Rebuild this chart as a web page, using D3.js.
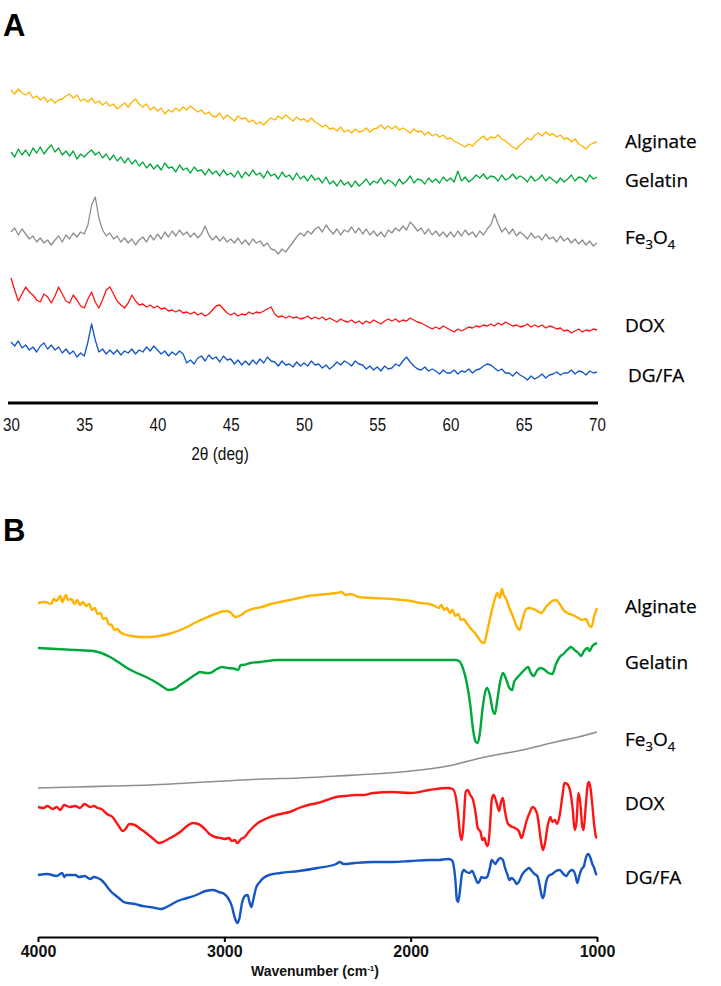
<!DOCTYPE html>
<html><head><meta charset="utf-8">
<script src="https://cdn.jsdelivr.net/npm/d3@7"></script>
<style>
body{margin:0;background:#fff;}
svg{display:block;}
</style></head>
<body>
<svg id="chart" width="721" height="986"></svg>
<script>
// ---------- Panel A: XRD (2θ from 30 to 70 deg, step 0.25) ----------
const xrdStart = 30, xrdStep = 0.25;
const xrdTicks = [30,35,40,45,50,55,60,65,70];
const xrdAlginate = [310,306,311,307,305,308,302,304,300,303,298,301,297,300,301,304,306,302,305,299,301,298,302,297,299,295,298,294,296,291,294,297,293,298,301,296,293,296,290,293,289,292,286,290,288,292,289,293,290,294,291,288,290,286,288,284,283,287,281,285,282,279,284,281,282,278,280,276,278,275,279,282,280,284,281,285,282,279,283,280,281,278,282,278,276,273,275,271,272,269,273,268,270,267,271,268,269,272,268,271,272,275,271,274,271,274,270,272,270,267,271,268,269,265,268,264,266,263,265,261,262,259,257,255,253,256,254,258,261,264,260,263,262,265,261,259,256,253,251,255,258,262,260,265,267,264,268,265,266,263,265,261,262,258,261,256,254,251,255,257,258];
const xrdGelatin = [248,243,251,245,250,244,252,247,253,246,251,255,248,252,245,249,244,249,241,246,243,247,250,245,248,242,246,240,245,239,243,237,242,236,240,234,238,232,236,231,235,230,237,232,233,228,235,230,232,227,233,229,230,225,231,226,229,224,230,225,227,223,229,222,228,224,230,225,227,222,229,224,226,221,228,223,225,220,227,221,224,219,225,220,222,217,223,216,219,214,220,215,218,213,219,214,217,221,215,219,217,222,216,220,218,214,221,216,219,224,217,221,220,216,222,218,221,217,223,219,222,218,229,219,223,218,221,225,222,226,221,224,223,219,225,220,222,226,221,224,222,218,224,219,221,225,219,223,220,217,222,218,221,225,219,223,222,218,225,221,223];
const xrdFe3O4 = [168,172,165,171,166,161,164,158,162,157,160,155,160,164,158,165,161,167,163,168,166,175,195,203,182,170,164,167,161,164,158,162,157,161,155,160,163,158,165,160,166,161,168,163,169,164,170,165,168,163,167,162,166,174,165,160,164,159,163,158,161,157,162,156,160,155,161,157,159,154,157,151,150,146,151,148,153,158,163,167,164,169,166,171,173,168,175,170,166,171,165,170,168,173,167,172,166,171,165,169,164,168,163,170,167,172,169,174,170,178,174,169,172,166,171,165,169,164,168,163,168,163,169,164,170,165,168,163,169,165,171,175,186,176,168,172,166,171,164,168,165,161,167,162,164,160,166,161,163,158,164,159,162,157,161,156,160,155,159,154,157];
const xrdDOX = [122,110,99,106,113,108,105,100,98,106,103,97,104,113,106,99,97,105,100,94,92,101,108,98,92,100,110,113,106,99,95,92,97,105,99,95,96,93,95,92,94,91,92,89,90,88,90,87,88,86,88,85,87,84,86,90,94,95,91,87,85,87,84,86,85,88,86,88,87,89,91,93,86,83,84,82,84,82,83,81,82,84,81,83,81,83,80,82,80,78,81,79,78,80,77,79,76,79,77,80,78,76,79,81,79,81,78,80,79,82,80,78,77,75,73,71,73,71,74,72,70,68,71,69,71,73,72,74,73,75,74,76,74,77,75,78,76,74,75,73,74,76,73,75,73,75,72,74,73,71,72,69,70,67,69,71,68,70,69,71,70];
const xrdDGFA = [58,54,59,52,55,50,53,48,54,57,51,55,50,53,47,51,46,49,43,47,44,58,76,60,48,51,46,50,46,50,45,49,47,51,46,50,48,53,49,54,50,46,49,44,48,45,49,46,37,40,36,42,44,39,45,41,43,38,44,40,41,36,40,35,39,35,40,36,41,37,43,39,38,34,39,35,36,33,38,34,37,34,39,35,36,32,35,31,34,38,35,39,37,34,39,36,35,31,34,30,33,29,34,31,32,36,34,39,43,38,34,31,30,33,29,31,29,26,30,27,27,30,26,29,28,31,27,30,31,34,36,35,32,29,31,27,27,24,28,25,23,20,24,21,23,26,22,25,26,28,25,27,27,30,26,29,28,25,29,27,28];

// ---------- Panel B: FTIR ([wavenumber cm-1, transmittance a.u.]) ----------
const ftirTicks = [4000,3000,2000,1000];
const ftirAlginate = [[4000,347],[3960,348],[3930,346],[3915,351],[3900,349],[3880,354],[3870,348],[3850,355],[3840,350],[3820,351],[3805,346],[3790,350],[3775,345],[3760,348],[3740,344],[3725,346],[3710,340],[3695,342],[3680,336],[3665,337],[3650,331],[3635,332],[3620,326],[3605,325],[3590,320],[3575,321],[3560,318],[3540,316],[3500,314],[3450,313],[3400,313],[3350,314],[3300,316],[3250,319],[3200,323],[3150,328],[3100,332],[3050,336],[2990,339],[2970,338],[2940,333],[2910,335],[2880,339],[2850,341],[2800,343],[2750,346],[2700,348],[2650,350],[2600,352],[2550,354],[2500,355],[2450,356],[2400,357],[2370,358],[2350,355],[2320,356],[2280,353],[2200,352],[2100,351],[2000,349],[1950,347],[1900,346],[1870,344],[1850,342],[1835,345],[1820,340],[1805,342],[1790,337],[1775,340],[1760,334],[1745,336],[1730,330],[1715,331],[1700,327],[1680,322],[1660,318],[1640,313],[1620,308],[1605,307],[1590,318],[1570,335],[1550,350],[1535,357],[1522,352],[1510,361],[1500,355],[1490,352],[1470,342],[1450,333],[1430,323],[1415,320],[1400,330],[1380,341],[1360,342],[1330,340],[1300,337],[1270,344],[1240,349],[1220,350],[1200,346],[1180,340],[1160,337],[1130,335],[1100,332],[1080,330],[1060,331],[1040,324],[1030,323],[1015,334],[1000,342]];
const ftirGelatin = [[4000,302],[3900,301],[3800,300],[3705,299],[3660,297],[3613,293],[3570,288],[3522,282],[3470,277],[3420,273],[3361,267],[3320,262],[3302,260],[3270,261],[3238,265],[3190,271],[3150,276],[3130,278],[3100,277],[3077,277],[3040,281],[3012,283],[2980,282],[2940,281],[2926,280],[2912,285],[2899,285],[2860,287],[2808,288],[2717,290],[2500,290],[2200,290],[2000,290],[1800,290],[1760,290],[1740,289],[1720,282],[1700,268],[1680,245],[1665,220],[1650,208],[1640,207],[1630,215],[1615,240],[1600,258],[1590,262],[1575,255],[1560,240],[1548,236],[1535,250],[1520,268],[1505,277],[1490,272],[1470,262],[1455,260],[1445,268],[1430,272],[1410,276],[1390,280],[1370,283],[1355,277],[1340,274],[1320,280],[1300,282],[1280,280],[1260,277],[1240,276],[1220,286],[1200,293],[1180,296],[1160,300],[1140,303],[1120,300],[1100,297],[1085,294],[1070,299],[1050,302],[1040,299],[1025,304],[1000,307]];
const ftirFe3O4 = [[4000,162],[3800,163],[3600,164],[3400,165],[3200,167],[3000,169],[2800,171],[2600,172],[2400,174],[2200,176],[2000,179],[1800,184],[1600,193],[1400,200],[1200,209],[1100,213],[1000,218]];
const ftirDOX = [[4000,143],[3970,142],[3950,144],[3920,141],[3900,143],[3880,140],[3860,145],[3830,143],[3800,144],[3775,142],[3750,146],[3720,143],[3700,144],[3680,142],[3660,141],[3630,136],[3600,133],[3570,125],[3545,119],[3530,121],[3510,126],[3480,125],[3450,121],[3420,117],[3380,111],[3350,107],[3330,108],[3300,111],[3270,114],[3230,119],[3200,124],[3170,127],[3140,126],[3110,122],[3080,116],[3050,113],[3020,112],[3000,111],[2975,112],[2960,109],[2945,110],[2930,107],[2910,111],[2890,113],[2870,118],[2850,122],[2820,127],[2780,131],[2740,134],[2700,136],[2650,138],[2600,142],[2550,145],[2500,147],[2450,150],[2400,153],[2350,154],[2300,155],[2250,155],[2200,157],[2100,158],[2000,157],[1900,160],[1800,162],[1775,161],[1760,155],[1745,135],[1735,116],[1725,110],[1715,130],[1705,158],[1695,160],[1680,155],[1665,150],[1650,135],[1640,122],[1625,118],[1615,110],[1605,112],[1595,106],[1585,104],[1575,122],[1565,150],[1555,155],[1540,148],[1525,139],[1515,148],[1505,152],[1495,140],[1480,127],[1465,124],[1440,122],[1420,119],[1405,112],[1395,117],[1380,128],[1360,138],[1345,143],[1330,140],[1320,135],[1310,122],[1300,108],[1290,100],[1280,106],[1265,124],[1250,133],[1240,128],[1225,130],[1215,126],[1200,135],[1185,155],[1175,167],[1160,166],[1150,163],[1140,155],[1130,140],[1120,120],[1110,128],[1100,157],[1090,148],[1080,125],[1072,120],[1060,145],[1050,165],[1043,168],[1035,162],[1025,145],[1015,125],[1005,113],[1000,112]];
const ftirDGFA = [[4000,75],[3950,76],[3900,74],[3870,77],[3860,73],[3850,75],[3800,75],[3780,73],[3750,74],[3720,71],[3700,73],[3680,72],[3660,70],[3640,66],[3620,61],[3600,57],[3580,54],[3560,51],[3540,48],[3520,47],[3480,46],[3440,44],[3400,43],[3370,42],[3340,41],[3310,43],[3280,46],[3250,49],[3200,52],[3150,55],[3100,59],[3060,60],[3030,58],[3000,56],[2980,52],[2960,44],[2945,33],[2930,27],[2920,31],[2905,47],[2890,54],[2875,55],[2865,48],[2855,43],[2845,50],[2830,62],[2810,68],[2790,72],[2760,75],[2700,77],[2600,79],[2500,82],[2400,86],[2380,88],[2360,86],[2300,87],[2200,88],[2100,88],[2000,89],[1900,90],[1850,90],[1800,91],[1780,90],[1770,85],[1760,70],[1752,50],[1745,48],[1735,60],[1725,76],[1715,80],[1700,78],[1685,77],[1670,79],[1655,73],[1640,67],[1630,69],[1620,73],[1605,72],[1590,73],[1575,82],[1565,90],[1555,88],[1545,86],[1535,89],[1520,92],[1505,90],[1495,83],[1480,75],[1470,70],[1460,72],[1445,70],[1430,66],[1420,68],[1400,76],[1380,80],[1365,82],[1350,79],[1335,76],[1320,74],[1305,62],[1293,52],[1285,54],[1275,66],[1260,74],[1240,76],[1220,79],[1200,80],[1180,76],[1165,74],[1150,78],[1135,80],[1125,79],[1115,74],[1106,67],[1095,74],[1085,80],[1070,84],[1060,92],[1047,96],[1035,92],[1025,86],[1015,82],[1005,76],[1000,75]];

const seriesNames = ["Alginate","Gelatin","Fe3O4","DOX","DG/FA"];
const seriesColors = ["#FFB300","#00A83C","#8E8E8E","#FF1414","#1555C4"];

// ---------- drawing ----------
const svg = d3.select("#chart");
const labelFont = "'Open Sans', 'Noto Sans', sans-serif";

function addSeriesLabel(g, name, x, y) {
  const t = g.append("text").attr("x", x).attr("y", y)
    .attr("font-family", labelFont).attr("font-size", 19).attr("fill", "#000")
    .attr("stroke", "#000").attr("stroke-width", 0.25);
  if (name === "Fe3O4") {
    t.append("tspan").text("Fe");
    t.append("tspan").text("3").attr("font-size", 13).attr("dy", 5);
    t.append("tspan").text("O").attr("dy", -5);
    t.append("tspan").text("4").attr("font-size", 13).attr("dy", 5);
  } else t.text(name);
}

// Panel A
const xA = d3.scaleLinear().domain([30, 70]).range([11, 597]);
const yA = d3.scaleLinear().domain([0, 330]).range([400, 70]);
const xrdSeries = [xrdAlginate, xrdGelatin, xrdFe3O4, xrdDOX, xrdDGFA];
const gA = svg.append("g");
const lineA = d3.line().x((d, i) => xA(xrdStart + i * xrdStep)).y(d => yA(d));
xrdSeries.forEach((s, k) => {
  gA.append("path").datum(s).attr("d", lineA).attr("fill", "none")
    .attr("stroke", seriesColors[k]).attr("stroke-width", 1.3).attr("stroke-linejoin", "round");
});
const narrowFont = "'Liberation Sans Narrow', 'Liberation Sans', sans-serif";
const axA = gA.append("g").attr("transform", "translate(0,403)")
  .call(d3.axisBottom(xA).tickValues(xrdTicks).tickSize(0).tickSizeOuter(0).tickPadding(15).tickFormat(d3.format("d")));
axA.select(".domain").attr("stroke", "#000").attr("stroke-width", 3.2).attr("d", "M8,0H598");
axA.selectAll("text").attr("font-family", narrowFont)
  .attr("font-size", 18).attr("fill", "#111").attr("transform", "scale(0.84,1)");
gA.append("text").attr("transform", "translate(220,460) scale(0.86,1)").attr("text-anchor", "middle")
  .attr("font-family", narrowFont).attr("font-size", 18).attr("fill", "#111")
  .text("2θ (deg)");
gA.append("text").attr("x", 3).attr("y", 36).attr("font-family", "'Liberation Sans', Arial, sans-serif")
  .attr("font-weight", "bold").attr("font-size", 31).text("A");
const labelPosA = [[625,148],[625,187],[625,244],[625,332],[628,382]];
seriesNames.forEach((n, k) => addSeriesLabel(gA, n, labelPosA[k][0], labelPosA[k][1]));

// Panel B
const xB = d3.scaleLinear().domain([4000, 1000]).range([38, 597]);
const yB = d3.scaleLinear().domain([0, 400]).range([950, 550]);
const ftirSeries = [ftirAlginate, ftirGelatin, ftirFe3O4, ftirDOX, ftirDGFA];
const gB = svg.append("g");
const lineB = d3.line().x(d => xB(d[0])).y(d => yB(d[1])).curve(d3.curveMonotoneX);
ftirSeries.forEach((s, k) => {
  gB.append("path").datum(s).attr("d", lineB).attr("fill", "none")
    .attr("stroke", seriesColors[k]).attr("stroke-width", k === 2 ? 1.6 : 2.4).attr("stroke-linejoin", "round");
});
const axB = gB.append("g").attr("transform", "translate(0,937)")
  .call(d3.axisBottom(xB).tickValues(ftirTicks).tickSize(5).tickSizeOuter(0).tickPadding(4).tickFormat(d3.format("d")));
axB.select(".domain").attr("stroke", "#000").attr("stroke-width", 2);
axB.selectAll(".tick line").attr("stroke", "#000").attr("stroke-width", 2);
axB.selectAll("text").attr("font-family", "'Liberation Sans', Arial, sans-serif")
  .attr("font-weight", "bold").attr("font-size", 16).attr("fill", "#111");
const wt = gB.append("text").attr("x", 315).attr("y", 976).attr("text-anchor", "middle")
  .attr("font-family", "'Liberation Sans', Arial, sans-serif").attr("font-weight", "bold")
  .attr("font-size", 14).attr("fill", "#111");
wt.append("tspan").text("Wavenumber (cm");
wt.append("tspan").text("-1").attr("font-size", 8).attr("dy", -5);
wt.append("tspan").text(")").attr("dy", 5);
gB.append("text").attr("x", 3).attr("y", 541).attr("font-family", "'Liberation Sans', Arial, sans-serif")
  .attr("font-weight", "bold").attr("font-size", 31).text("B");
const labelPosB = [[625,613],[625,669],[625,746],[625,810],[625,884]];
seriesNames.forEach((n, k) => addSeriesLabel(gB, n, labelPosB[k][0], labelPosB[k][1]));
</script>
</body></html>
